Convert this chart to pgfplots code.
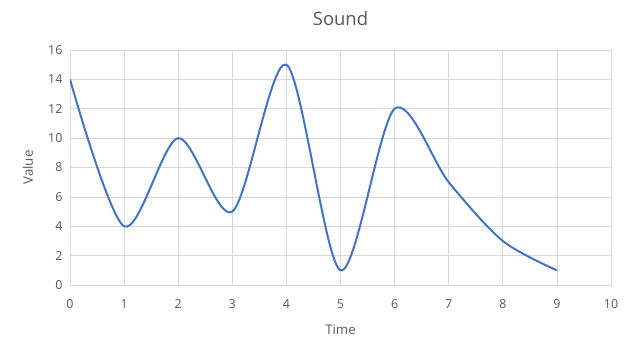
\documentclass[border=0pt]{standalone}
\usepackage{fontspec}
\setmainfont{Open Sans}
\usepackage{pgfplots}
\pgfplotsset{compat=1.18}
\definecolor{line}{HTML}{4472C4}
\definecolor{grid}{HTML}{D9D9D9}
\definecolor{txt}{HTML}{595959}
\begin{document}
\begin{tikzpicture}[x=1bp,y=1bp]
\useasboundingbox (0,0) rectangle (643,348);
\begin{axis}[
  at={(70bp,63bp)}, anchor=south west,
  scale only axis, width=541bp, height=235bp,
  xmin=0, xmax=10, ymin=0, ymax=16,
  xtick={0,1,...,10}, ytick={0,2,...,16},
  grid=major,
  grid style={color=grid, line width=0.75bp},
  axis line style={color=grid, line width=0.75bp},
  major tick length=0pt,
  /pgf/number format/assume math mode=true,
  tick label style={color=txt, font=\fontsize{12.5}{15}\selectfont},
  xticklabel style={yshift=-11bp},
  yticklabel style={xshift=-4bp},
  title={Sound},
  title style={at={(axis description cs:0.5,1.11)}, anchor=center, color=txt, font=\fontsize{18.5}{22}\selectfont},
  xlabel={Time},
  ylabel={Value},
  xlabel style={at={(axis description cs:0.5,-0.19)}, anchor=center, color=txt, font=\fontsize{13.3}{16}\selectfont},
  ylabel style={at={(axis description cs:-0.0776,0.5)}, anchor=center, rotate=0, color=txt, font=\fontsize{13.3}{16}\selectfont},
]
\addplot[color=line, line width=2bp, smooth, tension=0.5] coordinates {
(0,14) (1,4) (2,10) (3,5) (4,15) (5,1) (6,12) (7,7) (8,3) (9,1)
};
\end{axis}
\end{tikzpicture}
\end{document}
